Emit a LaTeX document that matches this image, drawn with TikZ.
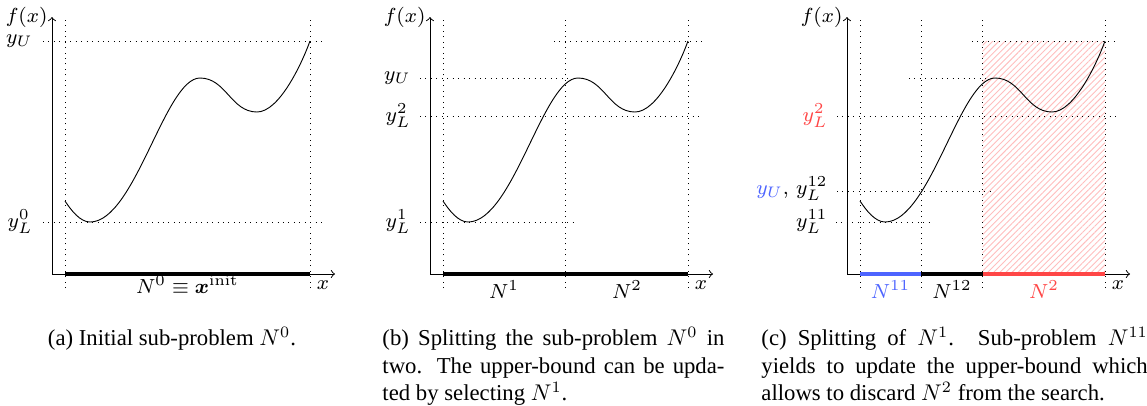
\documentclass[tikz,border=0pt]{standalone}
\usepackage[no-math]{fontspec}
\setmainfont{Liberation Serif}
\usepackage{amsmath,bm}
\usepackage{tikz}
\usetikzlibrary{patterns.meta}
\definecolor{CutBlue}{RGB}{77,100,255}
\definecolor{CutRed}{RGB}{255,70,70}
\definecolor{HatchRed}{RGB}{255,190,190}

\begin{document}
\begin{tikzpicture}[x=0.44pt,y=0.44pt,
  guide/.style={dotted},
  plotlab/.style={font=\footnotesize,scale=1.12,transform shape},
  ylab/.style={plotlab,anchor=east,inner sep=0pt},
  barlab/.style={plotlab,anchor=base,inner sep=0pt},
  seg/.style={line width=2pt},
  captext/.style={anchor=north west,inner sep=0pt,font=\fontsize{10}{12}\selectfont,align=justify}]
  \useasboundingbox (0,0) rectangle (1147,405);
  % discarded part of (c)
  \fill[pattern={Lines[angle=45,distance=1.9pt,line width=0.4pt]},pattern color=HatchRed]
    (982.5,131) rectangle (1105,364);
  % axes, bounds of the domain and f
  \foreach \ox/\p in {52/a,430/b,847/c}{
    \begin{scope}[shift={(\ox,131)}]
      \coordinate (o\p) at (0,0);
      \draw[->] (o\p) -- (283,0);
      \draw[->] (o\p) -- (0,257);
      \node[plotlab] (x\p) at (271,-11){$x$};
      \node[plotlab,anchor=east,inner sep=0pt] (fx\p) at (-4,257){$f(x)$};
      \draw[guide] (13,-14) -- (13,256);
      \draw[guide] (258,-14) -- (258,256);
      \draw (13,73) .. controls (19,64) and (28,52) .. (38,52)
        .. controls (83,52) and (113,196) .. (148,196)
        .. controls (174,196) and (179,162) .. (205,162)
        .. controls (227,162) and (249.5,209.5) .. (258,233);
    \end{scope}}
  % (a)
  \begin{scope}[shift={(52,131)}]
    \draw[guide] (-9,233) -- (271,233);
    \draw[guide] (-9,52) -- (271,52);
    \node[ylab] (yUa) at (-19,233){$y_U$};
    \node[ylab] (yLa) at (-19,52){$y_L^0$};
    \draw[seg] (13,0) -- (258,0);
    \node[barlab] (N0) at (135.5,-19){$N^0\equiv\bm{x}^{\mathrm{init}}$};
  \end{scope}
  % (b)
  \begin{scope}[shift={(430,131)}]
    \draw[guide] (135.5,-14) -- (135.5,256);
    \draw[guide] (124,233) -- (272,233);
    \draw[guide] (-10,196) -- (142,196);
    \draw[guide] (-10,158) -- (272,158);
    \draw[guide] (-10,52) -- (148,52);
    \node[ylab] (yUb) at (-19,196){$y_U$};
    \node[ylab] (yL2b) at (-19,158){$y_L^2$};
    \node[ylab] (yL1b) at (-19,52){$y_L^1$};
    \draw[seg] (13,0) -- (258,0);
    \node[barlab] (N1b) at (74,-24){$N^1$};
    \node[barlab] (N2b) at (197,-24){$N^2$};
  \end{scope}
  % (c)
  \begin{scope}[shift={(847,131)}]
    \foreach \xs in {74,135.5}{\draw[guide] (\xs,-14) -- (\xs,256);}
    \draw[guide] (125,233) -- (271,233);
    \draw[guide] (62,196) -- (148,196);
    \draw[guide] (-10,158) -- (271,158);
    \draw[guide] (-10,83) -- (148,83);
    \draw[guide] (-11,52) -- (87,52);
    \node[ylab,CutRed] (yL2c) at (-19,158){$y_L^2$};
    \node[ylab] (yUc) at (-19,85){{\color{CutBlue}$y_U$}$,\,y_L^{12}$};
    \node[ylab] (yL11c) at (-19,52){$y_L^{11}$};
    \draw[seg,CutBlue] (13,0) -- (74,0);
    \draw[seg] (74,0) -- (135.5,0);
    \draw[seg,CutRed] (135.5,0) -- (258,0);
    \node[barlab,CutBlue] (N11c) at (43.5,-24){$N^{11}$};
    \node[barlab] (N12c) at (105,-24){$N^{12}$};
    \node[barlab,CutRed] (N2c) at (197,-24){$N^2$};
  \end{scope}
  % captions
  \node[captext,anchor=north,align=center] (capa) at (172,78){(a)\ Initial sub-problem $N^0$.};
  \node[captext,text width=150.5pt] (capb) at (382,78){(b)\ Splitting the sub-problem $N^0$ in\linebreak
    two. The upper-bound can be upda-\linebreak ted by selecting $N^1$.};
  \node[captext,text width=170pt] (capc) at (761,78){(c)\ Splitting of $N^1$. Sub-problem $N^{11}$\linebreak
    yields to update the upper-bound which\linebreak allows to discard $N^2$ from the search.};
\end{tikzpicture}
\end{document}
